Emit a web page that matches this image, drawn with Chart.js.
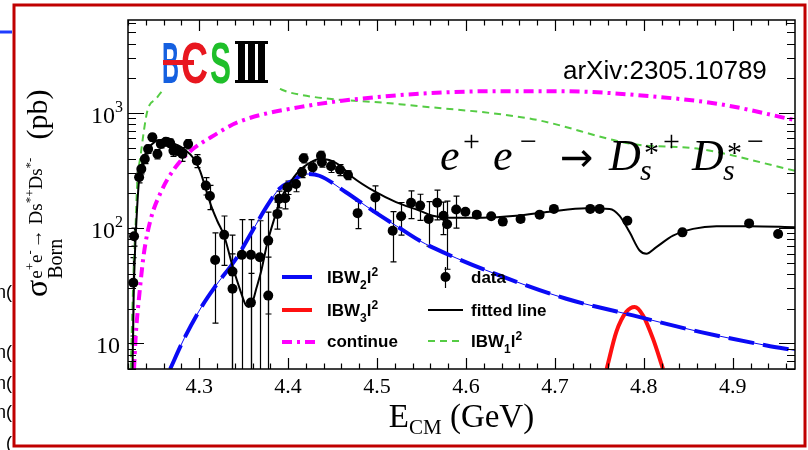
<!DOCTYPE html>
<html>
<head>
<meta charset="utf-8">
<script src="https://cdn.jsdelivr.net/npm/chart.js@4.4.0/dist/chart.umd.min.js"></script>
<style>
  html, body { margin: 0; padding: 0; background: #fff; }
  #wrap { width: 808px; height: 450px; position: relative; }
</style>
</head>
<body>
<div id="wrap"><canvas id="xsec" width="808" height="450"></canvas></div>
<script>
// Born cross section of e+e- -> Ds*+ Ds*- (pb) vs. E_CM (GeV)
const energy = [4.2260, 4.2268, 4.2325, 4.2350, 4.2389, 4.2426, 4.2474, 4.2531, 4.2569, 4.2625,
                4.2674, 4.2711, 4.2756, 4.2812, 4.2876, 4.2974, 4.3075, 4.3121, 4.3180, 4.3281,
                4.3375, 4.3375, 4.3480, 4.3582, 4.3582, 4.3683, 4.3777, 4.3777, 4.3880, 4.3900,
                4.3968, 4.3994, 4.4089, 4.4156, 4.4175, 4.4276, 4.4370, 4.4380, 4.4483, 4.4584,
                4.4674, 4.4782, 4.4981, 4.5176, 4.5271, 4.5383, 4.5485, 4.5581, 4.5676, 4.5747,
                4.5788, 4.5890, 4.5994, 4.6122, 4.6284, 4.6414, 4.6614, 4.6828, 4.6989, 4.7398,
                4.7503, 4.7815, 4.8434, 4.9184, 4.9510];
const sigma = [33.6, 85, 277, 326, 398, 486, 614, 440, 537, 562,
               548, 470, 470, 440, 537, 385, 234, 190, 53, 87.5,
               42, 29.8, 58.7, 58.7, 22.6, 56, 78, 26, 133, 180,
               182, 226, 242, 305, 404, 337, 425, 373, 344, 321,
               289, 135, 185, 95, 127, 166, 157, 120, 166, 128,
               108, 145, 139, 131, 127, 114, 120, 131, 147, 147,
               147, 116, 92, 110, 89];
const sigmaErr = [22, 15, 30, 30, 35, 40, 45, 40, 40, 45,
                  45, 50, 40, 60, 50, 50, 40, 45, 38, 40,
                  45, 30, 60, 60, 18, 60, 60, 30, 35, 30,
                  35, 30, 35, 30, 35, 40, 40, 35, 40, 35,
                  25, 36, 48, 44, 40, 45, 40, 50, 48, 40,
                  64, 45, 8, 7, 7, 7, 7, 7, 7, 7,
                  7, 6, 6, 6, 6];

// fitted line
const fitE = [4.2251, 4.2263, 4.2280, 4.2302, 4.2325, 4.2358, 4.2403, 4.2460, 4.2550, 4.2640,
              4.2730, 4.2831, 4.2944, 4.3011, 4.3075, 4.3135, 4.3203, 4.3281, 4.3375, 4.3469,
              4.3526, 4.3555, 4.3600, 4.3642, 4.3695, 4.3769, 4.3844, 4.3920, 4.4013, 4.4126,
              4.4238, 4.4351, 4.4463, 4.4576, 4.4726, 4.4989, 4.5214, 4.5477, 4.5626, 4.5814,
              4.6189, 4.6565, 4.6940, 4.7353, 4.7616, 4.7728, 4.7841, 4.7953, 4.8029, 4.8141,
              4.8328, 4.8553, 4.8817, 4.9192, 4.9700];
const fitSigma = [6.0, 24.4, 66, 147, 267, 361, 458, 526, 581, 581,
                  537, 486, 398, 313, 219, 156, 116, 86, 47, 27.9,
                  21.4, 20.7, 22.9, 29.8, 41.6, 75.7, 120, 180, 242, 315,
                  367, 398, 390, 353, 277, 205, 168, 142, 128, 123,
                  123, 128, 139, 149, 147, 128, 92, 64, 60, 68.5,
                  86, 98.6, 104, 104, 102];

// |BW2|^2
const bw2E = [4.2674, 4.2831, 4.3037, 4.3188, 4.3413, 4.3600, 4.3750, 4.3900, 4.4050, 4.4201,
              4.4351, 4.4651, 4.4951, 4.5214, 4.5477, 4.5739, 4.6377, 4.7128, 4.7878, 4.8629,
              4.9380, 4.9700];
const bw2Sigma = [6.0, 11, 21.4, 31.8, 54, 95, 150, 219, 258, 295,
                  285, 205, 142, 105, 78, 62, 38.9, 24.4, 17.5, 12.6,
                  9.6, 8.7];

// |BW3|^2
const bw3E = [4.7582, 4.7691, 4.7804, 4.7897, 4.7991, 4.8103, 4.8216];
const bw3Sigma = [6.0, 12.6, 18.8, 20.7, 17.5, 11, 6.0];

// continuum
const contE = [4.2268, 4.2287, 4.2325, 4.2381, 4.2456, 4.2569, 4.2719, 4.2907, 4.3132, 4.3431,
               4.4126, 4.5251, 4.6377, 4.7053, 4.8066, 4.8854, 4.9700];
const contSigma = [6.0, 11.7, 25.4, 62, 120, 205, 326, 470, 614, 828,
                   1122, 1426, 1544, 1544, 1397, 1191, 866];

// |BW1|^2
const bw1E = [4.2231, 4.2257, 4.2287, 4.2302, 4.2344, 4.2418, 4.2513, 4.2606, 4.2800, 4.3000,
              4.3300, 4.3600, 4.3864, 4.4013, 4.5251, 4.6752, 4.7878, 4.8629, 4.9700];
const bw1Sigma = [6.0, 30, 113, 228, 440, 1042, 1318, 1607, 2000, 2150,
                  2050, 1850, 1663, 1507, 1191, 883, 537, 486, 315];

const xTicks = [4.3, 4.4, 4.5, 4.6, 4.7, 4.8, 4.9];
const yTicks = [10, 100, 1000];
const yTickExp = { 10: '', 100: '2', 1000: '3' };

const serif = '"Liberation Serif", "Times New Roman", serif';
const sans = '"Liberation Sans", Arial, Helvetica, sans-serif';

function toXY(xs, ys) {
    return xs.map((x, i) => ({ x: x, y: ys[i] }));
}

function curve(label, xs, ys, color, width, dash) {
    return {
        type: 'line',
        label: label,
        data: toXY(xs, ys),
        borderColor: color,
        borderWidth: width,
        borderDash: dash || [],
        pointRadius: 0,
        fill: false,
        cubicInterpolationMode: 'monotone'
    };
}

// draw a run of text pieces: [text, font, dy, extra gap]
function rich(ctx, x, y, parts) {
    let cx = x;
    parts.forEach(function (p) {
        ctx.font = p[1];
        ctx.fillText(p[0], cx, y + (p[2] || 0));
        cx += ctx.measureText(p[0]).width + (p[3] || 0);
    });
    return cx;
}

function textWidth(ctx, parts) {
    let w = 0;
    parts.forEach(function (p) {
        ctx.font = p[1];
        w += ctx.measureText(p[0]).width + (p[3] || 0);
    });
    return w;
}

// one logo letter squeezed to a given width
function logoLetter(ctx, ch, x, y, w, color) {
    ctx.save();
    ctx.font = 'bold 57px ' + sans;
    const m = ctx.measureText(ch).width;
    ctx.translate(x, y);
    ctx.scale(w / m, 1);
    ctx.fillStyle = color;
    ctx.fillText(ch, 0, 0);
    ctx.restore();
}

const decor = {
    id: 'decor',
    beforeDatasetsDraw(chart) {
        // error bars under the markers
        const ctx = chart.ctx, xs = chart.scales.x, ys = chart.scales.y, a = chart.chartArea;
        ctx.save();
        ctx.beginPath();
        ctx.rect(a.left, a.top, a.right - a.left, a.bottom - a.top);
        ctx.clip();
        ctx.strokeStyle = '#000';
        ctx.lineWidth = 1.2;
        energy.forEach(function (e, i) {
            const px = Math.round(xs.getPixelForValue(e)) + 0.5;
            const hi = ys.getPixelForValue(sigma[i] + sigmaErr[i]);
            const lo = sigma[i] - sigmaErr[i] > 0 ? ys.getPixelForValue(sigma[i] - sigmaErr[i]) : a.bottom + 5;
            ctx.beginPath();
            ctx.moveTo(px, hi);
            ctx.lineTo(px, lo);
            ctx.moveTo(px - 3, hi);
            ctx.lineTo(px + 3, hi);
            if (lo < a.bottom) {
                ctx.moveTo(px - 3, lo);
                ctx.lineTo(px + 3, lo);
            }
            ctx.stroke();
        });
        ctx.restore();
    },
    afterDatasetsDraw(chart) {
        const ctx = chart.ctx, xs = chart.scales.x, ys = chart.scales.y, a = chart.chartArea;
        ctx.save();
        ctx.textBaseline = 'alphabetic';

        // BESIII logo on a white patch
        ctx.fillStyle = '#fff';
        ctx.fillRect(160, 34, 117, 57);
        logoLetter(ctx, 'B', 162, 83, 17, '#1560e0');
        logoLetter(ctx, 'C', 181, 83, 27, '#e8171f');
        logoLetter(ctx, 'S', 210, 83, 21, '#1fbf2a');
        ctx.fillStyle = '#e8171f';
        ctx.fillRect(163, 60, 31, 5);
        ctx.fillStyle = '#000';
        ctx.fillRect(235, 41, 33, 3);
        ctx.fillRect(235, 80, 33, 3);
        ctx.fillRect(238, 41, 7, 42);
        ctx.fillRect(248, 41, 7, 42);
        ctx.fillRect(258, 41, 7, 42);

        // frame and ROOT style inner ticks
        ctx.strokeStyle = '#000';
        ctx.lineWidth = 1.5;
        ctx.strokeRect(a.left, a.top, a.right - a.left, a.bottom - a.top);
        ctx.lineWidth = 1.2;
        ctx.beginPath();
        for (let k = 0; k <= 40; k++) {
            const v = 4.22 + k * 0.02;
            if (v > 4.97 + 1e-6) break;
            const px = Math.round(xs.getPixelForValue(v)) + 0.5;
            const major = Math.abs(v * 10 - Math.round(v * 10)) < 1e-6;
            const len = major ? 11 : 5.5;
            ctx.moveTo(px, a.bottom);
            ctx.lineTo(px, a.bottom - len);
            ctx.moveTo(px, a.top);
            ctx.lineTo(px, a.top + len);
        }
        for (let d = 1; d <= 1000; d *= 10) {
            for (let m = 1; m <= 9; m++) {
                const v = d * m;
                if (v < ys.min || v > ys.max) continue;
                const py = Math.round(ys.getPixelForValue(v)) + 0.5;
                const len = m === 1 ? 16 : 8;
                ctx.moveTo(a.left, py);
                ctx.lineTo(a.left + len, py);
                ctx.moveTo(a.right, py);
                ctx.lineTo(a.right - len, py);
            }
        }
        ctx.stroke();

        // tick labels
        ctx.fillStyle = '#000';
        ctx.font = '22px ' + serif;
        ctx.textAlign = 'center';
        xTicks.forEach(function (v) {
            ctx.fillText(v.toFixed(1), xs.getPixelForValue(v), a.bottom + 24);
        });
        ctx.textAlign = 'left';
        yTicks.forEach(function (v) {
            const py = ys.getPixelForValue(v) + 10;
            const exp = yTickExp[v];
            const parts = [['10', '24px ' + serif]];
            if (exp) parts.push([exp, '16px ' + serif, -11]);
            const w = textWidth(ctx, parts);
            rich(ctx, (exp ? a.left - 5 : a.left - 8) - w, py, parts);
        });

        // labels inside the pad
        ctx.font = '26px ' + sans;
        ctx.fillText('arXiv:2305.10789', 563, 79);

        const it = 'italic 44px ' + serif;
        const sIt = 'italic 30px ' + serif;
        const sUp = '30px ' + serif;
        rich(ctx, 440, 170, [['e', it]]);
        rich(ctx, 463, 151, [['+', sUp]]);
        rich(ctx, 493, 170, [['e', it]]);
        rich(ctx, 520, 151, [['\u2212', sUp]]);
        rich(ctx, 560, 171, [['\u2192', '40px "DejaVu Sans", sans-serif']]);
        rich(ctx, 609, 170, [['D', it]]);
        rich(ctx, 644, 162, [['*', sUp]]);
        rich(ctx, 640, 180, [['s', sIt]]);
        rich(ctx, 663, 151, [['+', sUp]]);
        rich(ctx, 692, 170, [['D', it]]);
        rich(ctx, 727, 162, [['*', sUp]]);
        rich(ctx, 723, 180, [['s', sIt]]);
        rich(ctx, 747, 151, [['\u2212', sUp]]);

        // legend
        const lb = 'bold 17px ' + sans;
        const ls = 'bold 12px ' + sans;
        ctx.lineCap = 'butt';
        function sample(x1, x2, y, color, width, dash) {
            ctx.beginPath();
            ctx.setLineDash(dash || []);
            ctx.strokeStyle = color;
            ctx.lineWidth = width;
            ctx.moveTo(x1, y);
            ctx.lineTo(x2, y);
            ctx.stroke();
            ctx.setLineDash([]);
        }
        sample(282, 312, 277, '#0a0af5', 4);
        sample(282, 312, 310, '#ff1010', 4);
        sample(282, 320, 342, '#ff00ff', 4, [10, 5, 3, 5]);
        sample(428, 463, 310, '#000', 2);
        sample(428, 463, 341, '#55cc44', 2, [7, 5]);
        ctx.strokeStyle = '#000';
        ctx.lineWidth = 1.2;
        ctx.beginPath();
        ctx.moveTo(445.5, 267);
        ctx.lineTo(445.5, 288);
        ctx.stroke();
        ctx.beginPath();
        ctx.arc(445.5, 277, 5, 0, Math.PI * 2);
        ctx.fillStyle = '#000';
        ctx.fill();

        function bwLabel(x, y, n) {
            rich(ctx, x, y, [['IBW', lb], [n, ls, 6], ['l', lb], ['2', ls, -7]]);
        }
        bwLabel(327, 283, '2');
        bwLabel(327, 316, '3');
        ctx.font = lb;
        ctx.fillText('continue', 327, 347);
        ctx.fillText('data', 471, 283);
        ctx.fillText('fitted line', 471, 316);
        bwLabel(471, 347, '1');

        ctx.restore();
    },
    afterDraw(chart) {
        const ctx = chart.ctx, a = chart.chartArea;
        ctx.save();
        ctx.fillStyle = '#000';

        // x axis title
        const xt = [['E', '33px ' + serif], ['CM', '21px ' + serif, 7], [' (GeV)', '33px ' + serif]];
        rich(ctx, (a.left + a.right) / 2 - textWidth(ctx, xt) / 2, 427, xt);

        // y axis title, read bottom to top
        ctx.translate(47, 297);
        ctx.rotate(-Math.PI / 2);
        ctx.font = '32px ' + serif;
        ctx.fillText('\u03c3', 0, 0);
        const sw = ctx.measureText('\u03c3').width + 1;
        ctx.font = '20px ' + serif;
        ctx.fillText('Born', sw, 15);
        const sp = '19px ' + serif, ss = '13px ' + serif;
        const sx = rich(ctx, sw, -5, [['e', sp], ['+', ss, -8], ['e', sp], ['-', ss, -8, 2],
            ['\u2192 Ds', sp], ['*+', ss, -8], ['Ds', sp], ['*-', ss, -8]]);
        ctx.font = '30px ' + serif;
        ctx.fillText('(pb)', sx + 18, 0);
        ctx.restore();

        // slide frame around the figure
        ctx.save();
        ctx.strokeStyle = '#c00000';
        ctx.lineWidth = 3;
        ctx.strokeRect(14, 5, 791, 441);
        ctx.strokeStyle = '#1f3cff';
        ctx.beginPath();
        ctx.moveTo(0, 32);
        ctx.lineTo(12, 32);
        ctx.stroke();
        ctx.fillStyle = '#000';
        ctx.font = '18px ' + sans;
        ctx.textAlign = 'right';
        [298, 358, 389, 418].forEach(function (y) { ctx.fillText('n(', 12, y); });
        ctx.fillText('(', 12, 449);
        ctx.restore();
    }
};

new Chart(document.getElementById('xsec'), {
    data: {
        datasets: [
            {
                type: 'scatter',
                label: 'data',
                data: toXY(energy, sigma),
                pointRadius: 5,
                pointBackgroundColor: '#000',
                pointBorderWidth: 0
            },
            curve('fitted line', fitE, fitSigma, '#000', 2),
            curve('IBW2', bw2E, bw2Sigma, '#0a0af5', 1),
            curve('IBW2', bw2E, bw2Sigma, '#0a0af5', 4, [26, 9]),
            curve('IBW3', bw3E, bw3Sigma, '#ff1010', 4),
            curve('continue', contE, contSigma, '#ff00ff', 4, [10, 5, 3, 5]),
            curve('IBW1', bw1E, bw1Sigma, '#55cc44', 2, [7, 5])
        ]
    },
    options: {
        responsive: false,
        animation: false,
        events: [],
        layout: { padding: { top: 20, right: 13, left: 0, bottom: 0 } },
        plugins: { legend: { display: false }, tooltip: { enabled: false } },
        scales: {
            x: {
                type: 'linear',
                min: 4.22,
                max: 4.97,
                afterBuildTicks: function (s) { s.ticks = xTicks.map(function (v) { return { value: v }; }); },
                afterFit: function (s) { s.height = 81; },
                grid: { display: false, drawTicks: false },
                border: { display: false },
                ticks: { display: false }
            },
            y: {
                type: 'logarithmic',
                min: 6,
                max: 6400,
                afterBuildTicks: function (s) { s.ticks = yTicks.map(function (v) { return { value: v }; }); },
                afterFit: function (s) { s.width = 128; },
                grid: { display: false, drawTicks: false },
                border: { display: false },
                ticks: { display: false }
            }
        }
    },
    plugins: [decor]
});
</script>
</body>
</html>
